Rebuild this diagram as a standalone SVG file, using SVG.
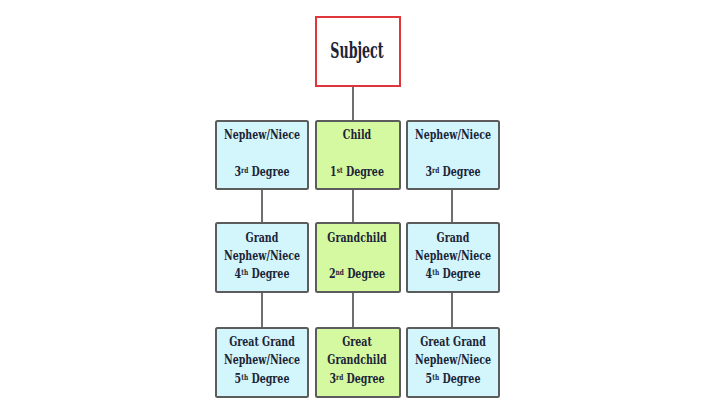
<svg xmlns="http://www.w3.org/2000/svg" width="720" height="412" viewBox="0 0 720 412">
<style>
.t{font-family:"DejaVu Serif",serif;font-weight:bold;font-size:13px;fill:#1c2438;text-anchor:middle}
.s{font-size:8px}
.b{fill:#d2f6fb;stroke:#5c5c5c;stroke-width:2}
.g{fill:#d4f9a0;stroke:#5c5c5c;stroke-width:2}
.c{stroke:#6e6e6e;stroke-width:2;fill:none}
</style>
<rect width="720" height="412" fill="#ffffff"/>
<g id="connectors">
<line class="c" x1="353" y1="86" x2="353" y2="121"/>
<line class="c" x1="262" y1="189" x2="262" y2="223"/>
<line class="c" x1="353" y1="189" x2="353" y2="223"/>
<line class="c" x1="452" y1="189" x2="452" y2="223"/>
<line class="c" x1="262" y1="292" x2="262" y2="328"/>
<line class="c" x1="353" y1="292" x2="353" y2="328"/>
<line class="c" x1="452" y1="292" x2="452" y2="328"/>
</g>
<g id="subject">
<rect x="316" y="17" width="84" height="69" fill="#ffffff" stroke="#e0353a" stroke-width="2"/>
<text class="t" transform="translate(357 58) scale(0.55 1)" style="font-size:23px">Subject</text>
</g>
<g id="nephew-left">
<rect class="b" x="216" y="121" width="92" height="68" rx="1.5"/>
<text class="t" transform="translate(262 139) scale(0.73 1)">Nephew/Niece</text>
<text class="t" transform="translate(262 176) scale(0.73 1)">3<tspan class="s" baseline-shift="40%">rd</tspan> Degree</text>
</g>
<g id="child">
<rect class="g" x="316" y="121" width="84" height="68" rx="1.5"/>
<text class="t" transform="translate(357 139) scale(0.73 1)">Child</text>
<text class="t" transform="translate(357 176) scale(0.73 1)">1<tspan class="s" baseline-shift="40%">st</tspan> Degree</text>
</g>
<g id="nephew-right">
<rect class="b" x="407" y="121" width="92" height="68" rx="1.5"/>
<text class="t" transform="translate(453 139) scale(0.73 1)">Nephew/Niece</text>
<text class="t" transform="translate(453 176) scale(0.73 1)">3<tspan class="s" baseline-shift="40%">rd</tspan> Degree</text>
</g>
<g id="grand-nephew-left">
<rect class="b" x="216" y="223" width="92" height="69" rx="1.5"/>
<text class="t" transform="translate(262 242) scale(0.73 1)">Grand</text>
<text class="t" transform="translate(262 260) scale(0.73 1)">Nephew/Niece</text>
<text class="t" transform="translate(262 278) scale(0.73 1)">4<tspan class="s" baseline-shift="40%">th</tspan> Degree</text>
</g>
<g id="grandchild">
<rect class="g" x="316" y="223" width="84" height="69" rx="1.5"/>
<text class="t" transform="translate(357 242) scale(0.73 1)">Grandchild</text>
<text class="t" transform="translate(357 278) scale(0.73 1)">2<tspan class="s" baseline-shift="40%">nd</tspan> Degree</text>
</g>
<g id="grand-nephew-right">
<rect class="b" x="407" y="223" width="92" height="69" rx="1.5"/>
<text class="t" transform="translate(453 242) scale(0.73 1)">Grand</text>
<text class="t" transform="translate(453 260) scale(0.73 1)">Nephew/Niece</text>
<text class="t" transform="translate(453 278) scale(0.73 1)">4<tspan class="s" baseline-shift="40%">th</tspan> Degree</text>
</g>
<g id="great-grand-nephew-left">
<rect class="b" x="216" y="328" width="92" height="69" rx="1.5"/>
<text class="t" transform="translate(262 346) scale(0.73 1)">Great Grand</text>
<text class="t" transform="translate(262 364) scale(0.73 1)">Nephew/Niece</text>
<text class="t" transform="translate(262 383) scale(0.73 1)">5<tspan class="s" baseline-shift="40%">th</tspan> Degree</text>
</g>
<g id="great-grandchild">
<rect class="g" x="316" y="328" width="84" height="69" rx="1.5"/>
<text class="t" transform="translate(357 346) scale(0.73 1)">Great</text>
<text class="t" transform="translate(357 364) scale(0.73 1)">Grandchild</text>
<text class="t" transform="translate(357 383) scale(0.73 1)">3<tspan class="s" baseline-shift="40%">rd</tspan> Degree</text>
</g>
<g id="great-grand-nephew-right">
<rect class="b" x="407" y="328" width="92" height="69" rx="1.5"/>
<text class="t" transform="translate(453 346) scale(0.73 1)">Great Grand</text>
<text class="t" transform="translate(453 364) scale(0.73 1)">Nephew/Niece</text>
<text class="t" transform="translate(453 383) scale(0.73 1)">5<tspan class="s" baseline-shift="40%">th</tspan> Degree</text>
</g>
</svg>
